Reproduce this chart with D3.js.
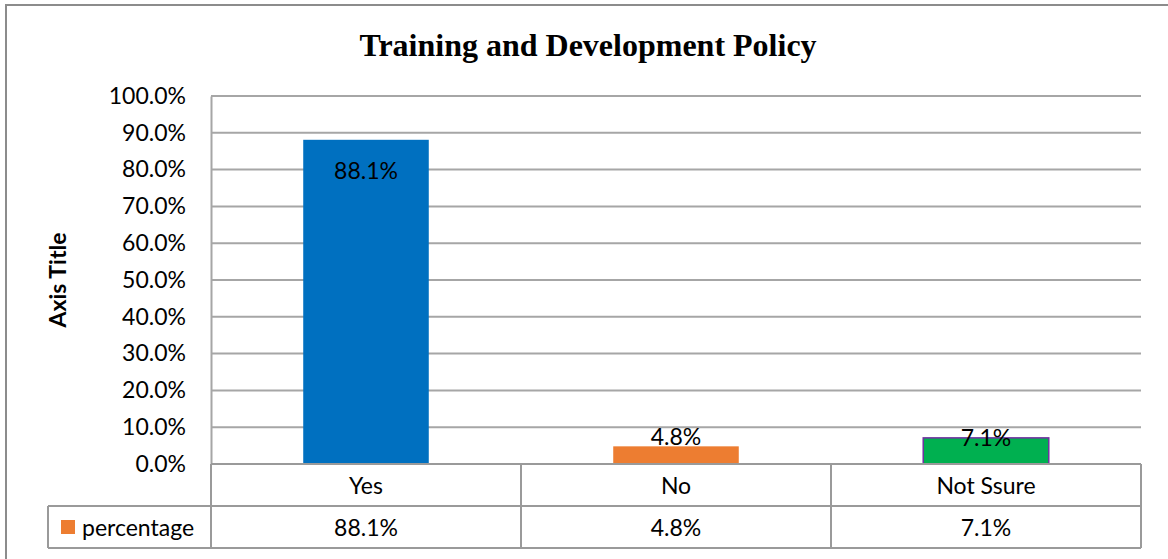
<!DOCTYPE html>
<html>
<meta charset="utf-8">
<style>
body { margin: 0; background: #fff; }
svg text { font-family: 'Lato', 'Open Sans', sans-serif; fill: #000; }
.grid line { stroke: #a6a6a6; stroke-width: 2; }
.tbl line { stroke: #9a9a9a; stroke-width: 2; }
</style>
<body>
<script src="https://cdn.jsdelivr.net/npm/d3@7/dist/d3.min.js"></script>
<script>
var w = 1168, h = 559;

// data
var categories = ["Yes", "No", "Not Ssure"];
var values = [88.1, 4.8, 7.1];
var barColors = ["#0070c0", "#ed7d31", "#00b050"];
var yTicks = [0, 10, 20, 30, 40, 50, 60, 70, 80, 90, 100];
var seriesName = "percentage";

var plotLeft = 211, plotRight = 1141, plotTop = 96, plotBottom = 464;
var rowH = 42, legendLeft = 48;
var fs = "23px";

var svg = d3.select("body").append("svg")
    .attr("width", w)
    .attr("height", h);

// outer chart border
svg.append("rect")
    .attr("x", 6).attr("y", 5)
    .attr("width", 1170).attr("height", 600)
    .attr("fill", "none")
    .attr("stroke", "#8c8c8c")
    .attr("stroke-width", 2);

var x = d3.scaleBand()
    .domain(categories)
    .range([plotLeft, plotRight])
    .paddingInner(0)
    .paddingOuter(0);

var y = d3.scaleLinear()
    .domain([0, 100])
    .range([plotBottom, plotTop]);

// gridlines
svg.append("g").attr("class", "grid")
  .selectAll("line")
  .data(yTicks)
  .enter().append("line")
    .attr("x1", plotLeft).attr("x2", plotRight)
    .attr("y1", function(d) { return y(d); })
    .attr("y2", function(d) { return y(d); });

// y axis
var yAxis = d3.axisLeft(y)
    .tickValues(yTicks)
    .tickSize(0)
    .tickPadding(25)
    .tickFormat(function(d) { return d.toFixed(1) + "%"; });

var ya = svg.append("g")
    .attr("transform", "translate(" + plotLeft + ",0)")
    .call(yAxis);
ya.select(".domain").attr("stroke", "#a6a6a6").attr("stroke-width", 2);
ya.selectAll("text")
    .style("font-size", fs)
    .style("font-family", "Lato")
    .attr("fill", "#000");

// bars
var bw = x.bandwidth() * 0.405;
svg.selectAll(".bar")
    .data(values)
    .enter().append("rect")
    .attr("class", "bar")
    .attr("x", function(d, i) { return x(categories[i]) + (x.bandwidth() - bw) / 2; })
    .attr("width", bw)
    .attr("y", function(d) { return y(d); })
    .attr("height", function(d) { return plotBottom - y(d); })
    .attr("fill", function(d, i) { return barColors[i]; })
    .attr("stroke", function(d, i) { return i == 2 ? "#7030a0" : "none"; })
    .attr("stroke-width", 1.5);

// data labels
svg.selectAll(".lbl")
    .data(values)
    .enter().append("text")
    .attr("class", "lbl")
    .attr("x", function(d, i) { return x(categories[i]) + x.bandwidth() / 2; })
    .attr("y", function(d, i) {
        if (i == 0) return y(d) + 31;
        if (i == 1) return y(d) - 9;
        return y(d);
    })
    .attr("dy", "0.35em")
    .attr("text-anchor", "middle")
    .style("font-size", fs)
    .text(function(d) { return d.toFixed(1) + "%"; });

// data table
var tbl = svg.append("g").attr("class", "tbl");
var cuts = categories.map(function(c) { return x(c); }).concat([plotRight]);

tbl.selectAll(".v1")
    .data(cuts)
    .enter().append("line")
    .attr("x1", function(d) { return d; }).attr("x2", function(d) { return d; })
    .attr("y1", plotBottom).attr("y2", plotBottom + rowH * 2);
tbl.append("line")
    .attr("x1", plotLeft).attr("x2", plotRight)
    .attr("y1", plotBottom).attr("y2", plotBottom);
tbl.append("line")
    .attr("x1", legendLeft).attr("x2", plotRight)
    .attr("y1", plotBottom + rowH).attr("y2", plotBottom + rowH);
tbl.append("line")
    .attr("x1", legendLeft).attr("x2", plotRight)
    .attr("y1", plotBottom + rowH * 2).attr("y2", plotBottom + rowH * 2);
tbl.append("line")
    .attr("x1", legendLeft).attr("x2", legendLeft)
    .attr("y1", plotBottom + rowH).attr("y2", plotBottom + rowH * 2);

svg.selectAll(".cat")
    .data(categories)
    .enter().append("text")
    .attr("x", function(d) { return x(d) + x.bandwidth() / 2; })
    .attr("y", plotBottom + rowH / 2 + 1)
    .attr("dy", "0.35em")
    .attr("text-anchor", "middle")
    .style("font-size", fs)
    .text(function(d) { return d; });

svg.selectAll(".tv")
    .data(values)
    .enter().append("text")
    .attr("x", function(d, i) { return x(categories[i]) + x.bandwidth() / 2; })
    .attr("y", plotBottom + rowH * 1.5 + 1)
    .attr("dy", "0.35em")
    .attr("text-anchor", "middle")
    .style("font-size", fs)
    .text(function(d) { return d.toFixed(1) + "%"; });

// legend key in table
svg.append("rect")
    .attr("x", legendLeft + 13).attr("y", plotBottom + rowH * 1.5 - 7)
    .attr("width", 14).attr("height", 14)
    .attr("fill", "#ed7d31");
svg.append("text")
    .attr("x", legendLeft + 34)
    .attr("y", plotBottom + rowH * 1.5 + 1)
    .attr("dy", "0.35em")
    .style("font-size", fs)
    .text(seriesName);

// title
svg.append("text")
    .attr("x", 588).attr("y", 56)
    .attr("text-anchor", "middle")
    .style("font-family", "'Liberation Serif', 'Times New Roman', serif")
    .style("font-weight", "bold")
    .style("font-size", "32px")
    .text("Training and Development Policy");

// y axis title
svg.append("text")
    .attr("transform", "translate(58," + ((plotTop + plotBottom) / 2) + ") rotate(-90)")
    .attr("text-anchor", "middle")
    .attr("dy", "0.35em")
    .style("font-weight", "bold")
    .style("font-size", "23px")
    .text("Axis Title");
</script>
</body>
</html>
